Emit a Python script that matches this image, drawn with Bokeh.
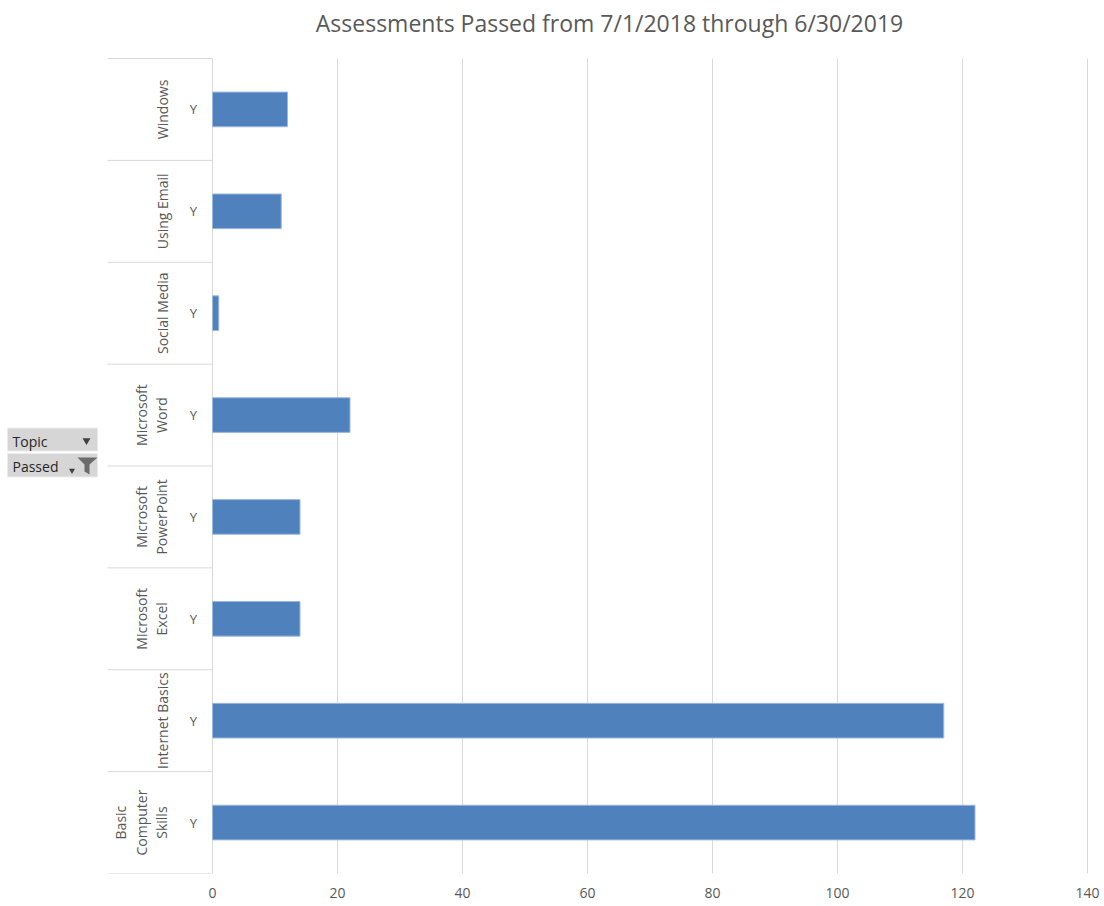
import math
from bokeh.plotting import figure
from bokeh.models import Range1d, FixedTicker, ColumnDataSource
from bokeh.embed import file_html
from bokeh.resources import INLINE
from bokeh.core.properties import value

# ---- data ----
topics = ["Basic Computer Skills", "Internet Basics", "Microsoft Excel",
          "Microsoft PowerPoint", "Microsoft Word", "Social Media",
          "Using Email", "Windows"]
topic_labels = ["Basic\nComputer\nSkills", "Internet Basics", "Microsoft\nExcel",
                "Microsoft\nPowerPoint", "Microsoft\nWord", "Social Media",
                "Using Email", "Windows"]
passed_flag = ["Y", "Y", "Y", "Y", "Y", "Y", "Y", "Y"]
passed_counts = [122, 117, 14, 14, 22, 1, 11, 12]
x_ticks = [0, 20, 40, 60, 80, 100, 120, 140]
title_text = "Assessments Passed from 7/1/2018 through 6/30/2019"

FONT = "Open Sans"
GRAY_TXT = "#595959"
GRID = "#d9d9d9"

W = 1100
PLOT_TOP, PLOT_BOTTOM = 58, 873          # page pixels of the category area
BOTTOM = 32
N = len(topics)
ROW = (PLOT_BOTTOM - PLOT_TOP) / N

# page-pixel helpers for decorations only
def px2x(px):
    return (px - 212) / 6.25

def py2y(py):
    return N - (py - PLOT_TOP) / ROW

cat_pos = [i + 0.5 for i in range(N)]     # category centres on the y scale

p = figure(width=W, height=PLOT_BOTTOM + BOTTOM,
           x_range=Range1d(px2x(0), px2x(W)),
           y_range=Range1d(0, py2y(0)),
           output_backend="svg", toolbar_location=None,
           y_axis_location=None,
           min_border_left=0, min_border_right=0,
           min_border_top=0, min_border_bottom=BOTTOM)

p.outline_line_color = None
p.background_fill_color = "white"
p.border_fill_color = "white"

# grid / axis
p.xgrid.grid_line_color = None
p.ygrid.grid_line_color = None
p.segment(x0=x_ticks, x1=x_ticks, y0=0, y1=N, line_color=GRID, line_width=1)

xa = p.xaxis[0]
xa.ticker = FixedTicker(ticks=x_ticks)
xa.axis_line_color = None
xa.major_tick_line_color = None
xa.minor_tick_line_color = None
xa.major_tick_out = 0
xa.major_tick_in = 0
xa.major_label_standoff = 14
xa.major_label_text_font = FONT
xa.major_label_text_font_size = "14px"
xa.major_label_text_color = GRAY_TXT

# title
p.text(x=[px2x(609)], y=[py2y(22)], text=[title_text],
       text_align="center", text_baseline="middle",
       text_font=value(FONT), text_font_size="23px", text_color=GRAY_TXT)

# bars
src = ColumnDataSource(dict(pos=cat_pos, topic=topics, count=passed_counts,
                            label=topic_labels, flag=passed_flag))
p.hbar(y="pos", left=0, right="count", height=0.34, source=src,
       fill_color="#4f81bd", line_color="#9db8de", line_width=1)

# category labels (multi-level axis imitation)
p.text(x=px2x(171), y="pos", text="label", source=src, angle=math.pi / 2,
       text_align="center", text_baseline="bottom",
       text_font=value(FONT), text_font_size="14px", text_color=GRAY_TXT,
       text_line_height=1.1)
p.text(x=px2x(193), y="pos", text="flag", source=src,
       text_align="center", text_baseline="middle",
       text_font=value(FONT), text_font_size="13px", text_color=GRAY_TXT)

bounds = list(range(N + 1))
p.segment(x0=px2x(107), x1=0, y0=bounds, y1=bounds,
          line_color=GRID, line_width=1)

# pivot field buttons
p.quad(left=[px2x(7), px2x(7)], right=[px2x(97), px2x(97)],
       top=[py2y(427.5), py2y(453)], bottom=[py2y(450.5), py2y(476.5)],
       fill_color="#d6d6d6", line_color="#ececec", line_width=1)
p.text(x=[px2x(12), px2x(12)], y=[py2y(440.5), py2y(465.5)],
       text=["Topic", "Passed"], text_align="left", text_baseline="middle",
       text_font=value(FONT), text_font_size="14px", text_color="#262626")
p.scatter(x=[px2x(86), px2x(71.5)], y=[py2y(440), py2y(470)],
          marker="inverted_triangle", size=[8, 6],
          fill_color="#404040", line_color=None)
fx = [77, 97, 89, 89, 84, 84]
fy = [457, 457, 464, 474, 471, 464]
p.patch(x=[px2x(v) for v in fx], y=[py2y(v) for v in fy],
        fill_color="#6b6b6b", line_color=None)

open("out.html", "w").write(file_html(p, INLINE))
